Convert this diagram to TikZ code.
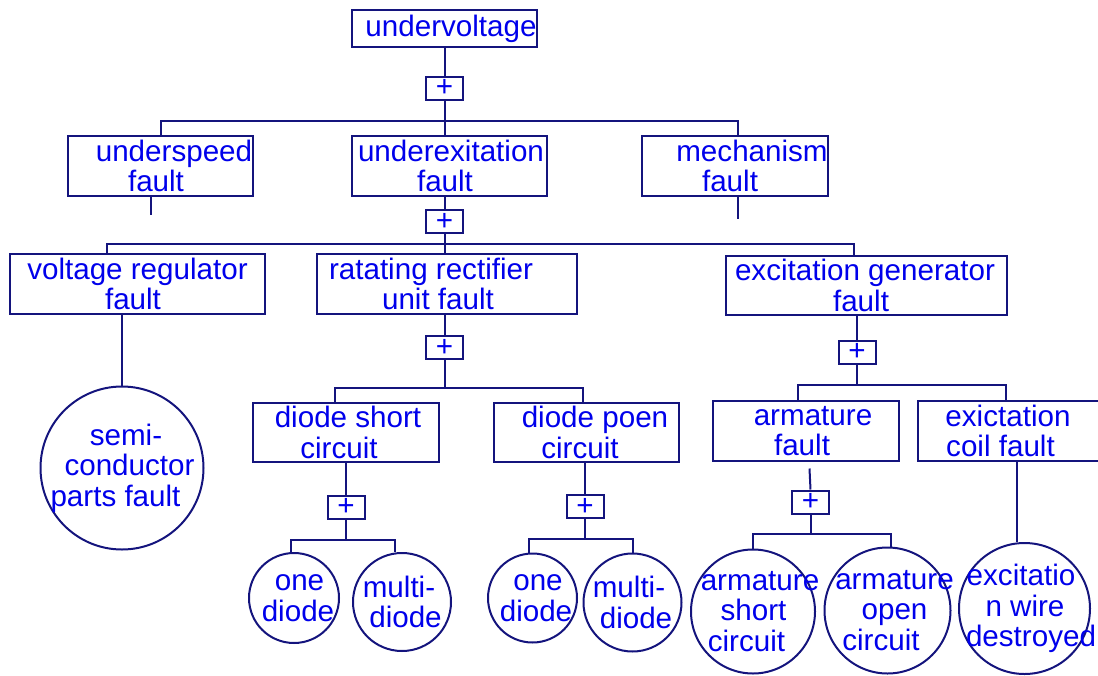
\documentclass[tikz,border=0pt]{standalone}
\usepackage{fontspec}
\setmainfont{Liberation Sans}
\usepackage{xcolor}
\usepackage{tikz}
\definecolor{textblue}{RGB}{0,0,235}
\definecolor{linenavy}{RGB}{20,20,125}
\newcommand{\ctr}[2][0pt]{\makebox[0pt]{\hspace*{#1}#2}}

\begin{document}
\begin{tikzpicture}[x=0.5pt, y=-0.5pt, font=\fontsize{14.8}{15.3}\selectfont,
  evbox/.style={draw=linenavy, line width=1pt, rectangle, inner sep=0pt, minimum height=30pt, text=textblue, align=center},
  orgate/.style={draw=linenavy, line width=1pt, rectangle, inner sep=0pt, minimum width=18.5pt, minimum height=11.5pt, text=textblue},
  leaf/.style={draw=linenavy, line width=1pt, circle, inner sep=0pt, text=textblue, align=center},
  link/.style={draw=linenavy, line width=1pt}]
\useasboundingbox (0,0) rectangle (1098,675);
\clip (0,0) rectangle (1098,675);

\node[evbox, minimum width=92.5pt, minimum height=18.5pt] (top) at (444.5,28.5) {\ctr[6.5pt]{undervoltage}};
\node[orgate] (p1) at (444.5,88) {+};
\node[evbox, minimum width=92.5pt] (speed) at (160.5,166) {\ctr[13.5pt]{underspeed}\\\ctr[-4.5pt]{fault}};
\node[evbox, minimum width=97.5pt] (exc) at (449.5,166) {\ctr[1.5pt]{underexitation}\\\ctr[-4.5pt]{fault}};
\node[evbox, minimum width=93pt] (mech) at (735,166) {\ctr[17pt]{mechanism}\\\ctr[-5pt]{fault}};

\node[orgate] (p2) at (444.5,221.5) {+};
\node[evbox, minimum width=127.5pt] (volt) at (137.5,284) {\ctr{voltage regulator}\\\ctr[-4.5pt]{fault}};
\node[evbox, minimum width=130pt] (rect) at (447,284) {\ctr[-16pt]{ratating rectifier}\\\ctr[-9pt]{unit fault}};
\node[evbox, minimum width=140.5pt, minimum height=29.5pt] (gen) at (866.5,285.5) {\ctr[-1.5pt]{excitation generator}\\\ctr[-5.5pt]{fault}};

\node[leaf, minimum size=81.5pt] (semi) at (122,468) {\ctr[4pt]{semi-}\\\ctr[7.5pt]{conductor}\\\ctr[-6.5pt]{parts fault}};

\node[orgate] (p3) at (444.5,347.5) {+};
\node[evbox, minimum width=93pt, minimum height=29.5pt] (dshort) at (346,432.5) {\ctr[2pt]{diode short}\\\ctr[-7pt]{circuit}};
\node[evbox, minimum width=92.5pt, minimum height=29.5pt] (dopen) at (586.5,432.5) {\ctr[8.5pt]{diode poen}\\\ctr[-6.5pt]{circuit}};

\node[orgate] (p4) at (346,507) {+};
\node[leaf, minimum size=45pt] (od1) at (294,598) {\ctr[5.5pt]{one}\\\ctr[4pt]{diode}};
\node[leaf, minimum size=49pt] (md1) at (402,602) {\ctr[-3pt]{multi-}\\\ctr[3.5pt]{diode}};
\node[orgate] (p5) at (585,506.5) {+};
\node[leaf, minimum size=44.5pt] (od2) at (532.5,598) {\ctr[5.5pt]{one}\\\ctr[3.5pt]{diode}};
\node[leaf, minimum size=49pt] (md2) at (632.5,602.5) {\ctr[-3.5pt]{multi-}\\\ctr[3.5pt]{diode}};

\node[orgate] (p6) at (857,352) {+};
\node[evbox, minimum width=93pt] (arm) at (806,431) {\ctr[7pt]{armature}\\\ctr[-4pt]{fault}};
\node[evbox, minimum width=96pt] (coil) at (1014,431) {\ctr[-6pt]{exictation}\\\ctr[-13.5pt]{coil fault}};
\node[orgate] (p7) at (810.5,502) {+};
\node[leaf, minimum size=62pt] (ashort) at (753,611.5) {\ctr[7pt]{armature}\\\ctr[0.5pt]{short}\\\ctr[-6.5pt]{circuit}};
\node[leaf, minimum size=63pt] (aopen) at (887.5,610.5) {\ctr[7pt]{armature}\\\ctr[7pt]{open}\\\ctr[-6.5pt]{circuit}};
\node[leaf, minimum size=65.5pt] (wire) at (1024.5,608.5) {\ctr[-3.5pt]{excitatio}\\\ctr[0.5pt]{n wire}\\\ctr[6.5pt]{destroyed}};

\draw[link] (top) -- (p1);
\draw[link] (p1.south) -- ++(0,20) coordinate (j1);
\draw[link] (j1) -| (speed.north);
\draw[link] (j1) -| ([xshift=1.5pt]mech.north);
\draw[link] (j1) -- (j1 |- exc.north);
\draw[link] ([xshift=-4.75pt]speed.south) -- ++(0,18);
\draw[link] ([xshift=1.5pt]mech.south) -- ++(0,22);

\draw[link] (p2 |- exc.south) -- (p2);
\draw[link] (p2.south) -- ++(0,10) coordinate (j2);
\draw[link] (j2) -| ([xshift=-15.25pt]volt.north);
\draw[link] (j2) -- (j2 |- rect.north);
\draw[link] (j2) -| ([xshift=-6.25pt]gen.north);
\draw[link] (semi.north |- volt.south) -- (semi.north);

\draw[link] (p3 |- rect.south) -- (p3);
\draw[link] (p3.south) -- ++(0,28) coordinate (j3);
\draw[link] (j3) -| ([xshift=-5.5pt]dshort.north);
\draw[link] (j3) -| ([xshift=-1.75pt]dopen.north);

\draw[link] (dshort) -- (p4);
\draw[link] (p4.south) -- ++(0,20) coordinate (j4);
\draw[link] (j4) -| ([xshift=-1.5pt]od1.north);
\draw[link] (j4) -| ([xshift=-3.5pt]md1.north);
\draw[link] (p5 |- dopen.south) -- (p5);
\draw[link] (p5.south) -- ++(0,20) coordinate (j5);
\draw[link] (j5) -| ([xshift=-1.75pt]od2.north);
\draw[link] (j5) -| (md2.north);

\draw[link] (p6 |- gen.south) -- (p6);
\draw[link] (p6.south) -- ++(0,20) coordinate (j6);
\draw[link] (j6) -| ([xshift=-4pt]arm.north);
\draw[link] (j6) -| ([xshift=-4pt]coil.north);
\draw[link] (p7.north) -- ++(-1,-21);
\draw[link] (p7.south) -- ++(0,19) coordinate (j7);
\draw[link] (j7) -| (ashort.north);
\draw[link] (j7) -| ([xshift=1.75pt]aopen.north);
\draw[link] ([xshift=1.5pt]coil.south) -- ([xshift=1.5pt]coil.south |- wire.north);
\end{tikzpicture}
\end{document}
